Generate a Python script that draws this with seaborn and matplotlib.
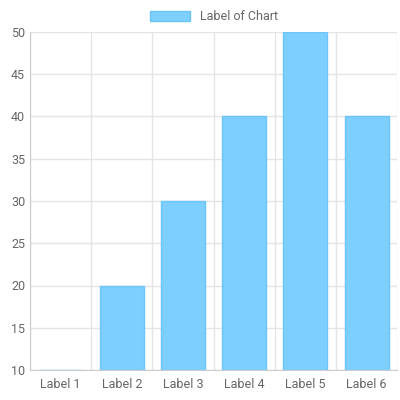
import matplotlib
matplotlib.use('Agg')
import matplotlib.pyplot as plt
import seaborn as sns
import pandas as pd

labels = ['Label 1', 'Label 2', 'Label 3', 'Label 4', 'Label 5', 'Label 6']
values = [10, 20, 30, 40, 50, 40]
series_name = 'Label of Chart'

df = pd.DataFrame({'label': labels, 'value': values})

sns.set_style('white')
plt.rcParams['font.family'] = ['Roboto', 'DejaVu Sans']

fig = plt.figure(figsize=(4, 4), dpi=100)
ax = fig.add_axes([0.075, 0.075, 0.918, 0.845])
sns.barplot(data=df, x='label', y='value', ax=ax, color='#7ccfff',
            saturation=1, width=0.72, edgecolor='#6cc4fa', linewidth=1,
            label=series_name)
ax.set_ylim(10, 50)
ax.set_yticks(range(10, 51, 5))
ax.set_xlabel('')
ax.set_ylabel('')
ax.set_xticks(range(len(labels)))
ax.set_xticks([i - 0.5 for i in range(len(labels) + 1)], minor=True)
ax.grid(True, which='minor', axis='x', color='#e5e5e5', linewidth=1)
ax.grid(True, which='major', axis='y', color='#e5e5e5', linewidth=1)
ax.set_axisbelow(True)
ax.tick_params(axis='both', which='both', length=0, labelsize=9, colors='#666666')
ax.tick_params(axis='x', pad=6)
for s in ax.spines.values():
    s.set_visible(False)
ax.spines['left'].set_visible(True)
ax.spines['bottom'].set_visible(True)
ax.spines['left'].set_color('#cccccc')
ax.spines['bottom'].set_color('#cccccc')
ax.set_xlim(-0.5, len(labels) - 0.5)

ax.legend(loc='lower center', bbox_to_anchor=(0.5, 1.0), frameon=False,
          fontsize=9, labelcolor='#666666', handlelength=3.2, handleheight=0.9,
          borderaxespad=0.3)
fig.savefig('out.png', dpi=100)
